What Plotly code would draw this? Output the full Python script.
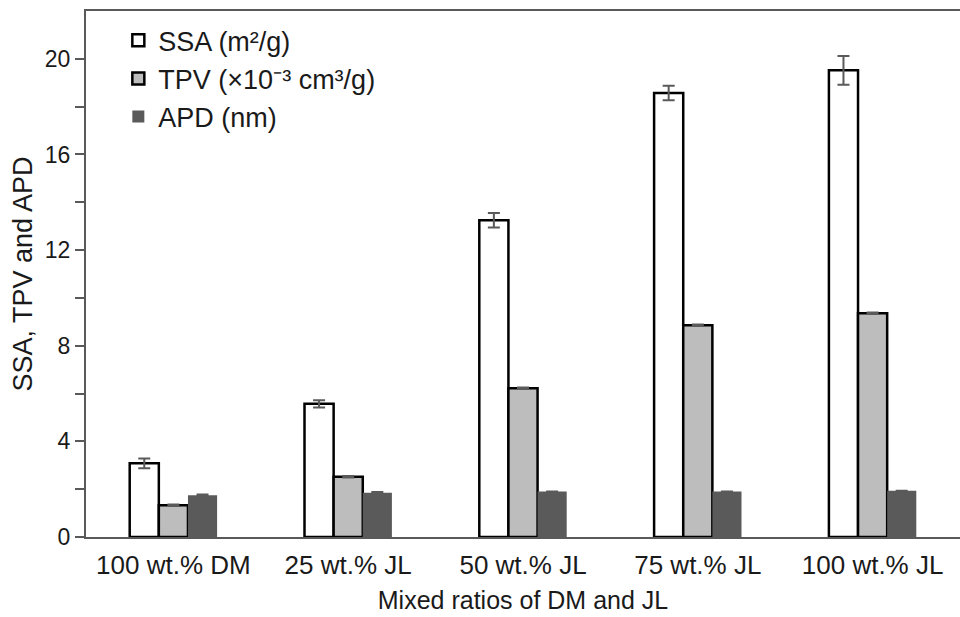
import plotly.graph_objects as go

categories = ["100 wt.% DM", "25 wt.% JL", "50 wt.% JL", "75 wt.% JL", "100 wt.% JL"]
ssa = [3.08, 5.57, 13.25, 18.57, 19.52]
ssa_err = [0.2, 0.15, 0.3, 0.3, 0.6]
tpv = [1.33, 2.52, 6.22, 8.86, 9.36]
tpv_err = [0.03, 0.03, 0.03, 0.03, 0.03]
apd = [1.75, 1.85, 1.9, 1.9, 1.93]
apd_err = [0.03, 0.03, 0.0, 0.0, 0.0]

font = "Liberation Sans, Arial, sans-serif"
errc = "#5a5a5a"

fig = go.Figure()
fig.add_trace(go.Bar(
    x=categories, y=ssa, name="SSA (m²/g)",
    marker=dict(color="white", line=dict(color="black", width=2.5)),
    error_y=dict(type="data", array=ssa_err, color=errc, thickness=2, width=6),
))
fig.add_trace(go.Bar(
    x=categories, y=tpv, name="TPV (×10⁻³ cm³/g)",
    marker=dict(color="#bdbdbd", line=dict(color="black", width=2.5)),
    error_y=dict(type="data", array=tpv_err, color=errc, thickness=2, width=6),
))
fig.add_trace(go.Bar(
    x=categories, y=apd, name="APD (nm)",
    marker=dict(color="#5a5a5a", line=dict(color="#5a5a5a", width=0)),
    error_y=dict(type="data", array=apd_err, color=errc, thickness=2, width=6),
))

yt = list(range(0, 21, 2))
fig.update_layout(
    width=960, height=617,
    margin=dict(l=86, r=0, t=11, b=80),
    paper_bgcolor="white", plot_bgcolor="white",
    barmode="group", bargap=0.5, bargroupgap=0,
    font=dict(family=font, size=24, color="#1a1a1a"),
    showlegend=True,
    legend=dict(x=0.037, y=0.99, xanchor="left", yanchor="top",
                bgcolor="rgba(0,0,0,0)", font=dict(size=27, family=font),
                itemwidth=30, tracegroupgap=0),
    xaxis=dict(
        showline=True, linecolor="#595959", linewidth=2, mirror=True,
        ticks="", showgrid=False, ticklabelstandoff=4,
        title=dict(text="Mixed ratios of DM and JL", font=dict(size=25), standoff=12),
        tickfont=dict(size=26),
    ),
    yaxis=dict(
        range=[0, 22], showline=True, linecolor="#595959", linewidth=2,
        tickvals=yt, ticktext=[str(v) if v % 4 == 0 else "" for v in yt],
        ticks="outside", ticklen=9, tickwidth=2, tickcolor="#595959",
        showgrid=False, zeroline=False,
        title=dict(text="SSA, TPV and APD", font=dict(size=27), standoff=4),
        tickfont=dict(size=23),
    ),
)
fig.write_html("out.html")
